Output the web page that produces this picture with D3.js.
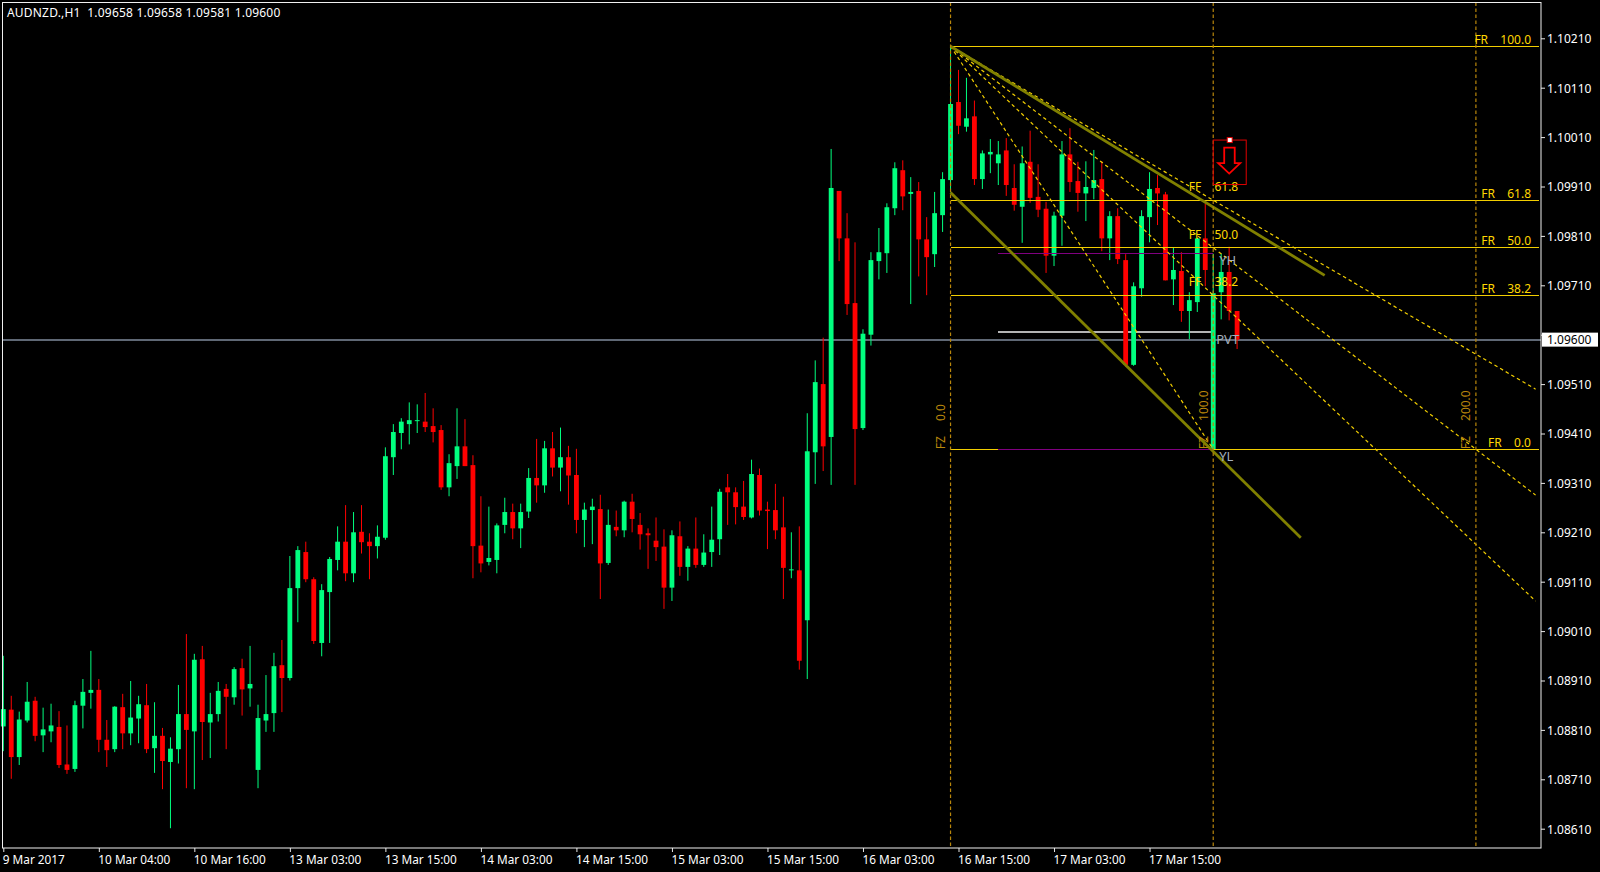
<!DOCTYPE html>
<html><head><meta charset="utf-8">
<script src="https://cdn.jsdelivr.net/npm/d3@7/dist/d3.min.js"></script>
<style>
html,body{margin:0;padding:0;background:#000;overflow:hidden}
svg{display:block}
text{font-family:"Noto Sans",sans-serif;font-size:12px;white-space:pre}
</style></head><body>
<svg id="c" width="1600" height="872"></svg>
<script>
// AUDNZD H1, all prices in points (1 point = 0.00001)
const opens=[
108817,108851,108755,108829,108869,108799,108807,108816,108740,108731,
108859,108885,108891,108790,108771,108856,108803,108833,108860,108773,
108798,108745,108771,108842,108807,108953,108825,108842,108893,108876,
108935,108894,108729,108829,108844,108941,108915,109097,109170,109115,
108986,109089,109154,109191,109127,109211,109191,109182,109199,109362,
109411,109429,109436,109434,109425,109417,109301,109344,109384,109346,
109183,109150,109154,109225,109251,109218,109252,109320,109305,109380,
109341,109362,109326,109235,109255,109257,109148,109221,109214,109272,
109225,109208,109193,109181,109098,109202,109140,109177,109144,109170,
109196,109301,109291,109262,109240,109326,109256,109255,109220,109133,
109133,109032,109372,109510,109403,109901,109805,109674,109421,109610,
109759,109775,109866,109943,109895,109901,109803,109773,109852,109923,
110081,110031,110052,109925,109975,109957,109983,109907,109869,109960,
109889,109865,109770,109851,109975,109921,109896,109907,109925,109805,
109850,109761,109549,109704,109848,109907,109894,109722,109739,109658,
109676,109805,109378,109696,109737,109658];
const closes=[
108852,108755,108831,108867,108798,108811,108819,108739,108729,108860,
108887,108891,108790,108769,108857,108803,108835,108862,108771,108798,
108747,108772,108842,108810,108952,108826,108842,108889,108877,108933,
108892,108903,108834,108842,108939,108915,109097,109174,109115,108990,
109093,109156,109191,109127,109210,109190,109182,109201,109364,109413,
109434,109437,109437,109423,109413,109301,109350,109384,109344,109182,
109147,109158,109224,109251,109218,109251,109320,109305,109380,109341,
109362,109325,109235,109256,109262,109147,109225,109214,109272,109237,
109206,109204,109180,109098,109204,109140,109177,109144,109169,109195,
109292,109291,109261,109241,109328,109254,109253,109214,109138,109135,
108950,109374,109514,109384,109907,109805,109672,109419,109612,109761,
109777,109868,109947,109890,109899,109803,109767,109856,109925,110077,
110033,110048,109925,109977,109980,109975,109913,109873,109957,109887,
109863,109770,109851,109975,109919,109897,109909,109923,109805,109850,
109763,109549,109708,109850,109905,109896,109720,109741,109658,109680,
109805,109741,109694,109737,109658,109600];
const highs=[
108960,108879,108847,108907,108877,108855,108863,108848,108819,108869,
108913,108970,108913,108830,108858,108883,108909,108879,108903,108866,
108814,108795,108901,109004,108964,108980,108885,108907,108903,108937,
108954,108980,108861,108921,108966,108992,109162,109182,109191,109119,
109105,109160,109222,109265,109251,109265,109208,109224,109382,109429,
109441,109473,109469,109492,109461,109427,109368,109461,109439,109366,
109283,109262,109228,109280,109268,109268,109340,109399,109395,109413,
109422,109385,109379,109270,109278,109286,109256,109254,109274,109288,
109249,109218,109240,109216,109214,109232,109182,109240,109206,109262,
109298,109328,109301,109314,109357,109339,109272,109308,109282,109210,
109222,109451,109558,109604,109986,109901,109856,109797,109621,109777,
109826,109876,109959,109963,109929,109919,109848,109899,109939,110193,
110146,110130,110084,109983,110006,110002,110008,109955,109991,110023,
109955,109879,109859,110002,110028,109960,109961,109984,109961,109860,
109866,109773,109716,109862,109939,109933,109899,109787,109777,109696,
109806,109875,109774,109774,109788,109658];
const lows=[
108767,108711,108739,108825,108787,108765,108785,108733,108721,108725,
108813,108853,108765,108735,108765,108771,108779,108783,108763,108723,
108690,108611,108742,108692,108690,108749,108753,108827,108771,108861,
108839,108857,108692,108806,108806,108846,108910,109028,109109,108984,
108959,108986,109133,109111,109109,109167,109115,109157,109195,109326,
109378,109388,109411,109413,109392,109296,109283,109318,109344,109117,
109129,109143,109127,109208,109196,109178,109239,109270,109290,109323,
109293,109266,109208,109180,109186,109075,109144,109202,109200,109210,
109175,109136,109152,109055,109071,109122,109112,109138,109140,109140,
109164,109225,109226,109235,109238,109244,109176,109196,109075,109117,
108932,108913,109308,109334,109306,109759,109650,109306,109417,109588,
109722,109735,109852,109862,109672,109728,109690,109747,109818,109898,
110016,110021,109913,109905,109937,109913,109891,109861,109796,109877,
109848,109735,109749,109790,109899,109859,109840,109884,109779,109761,
109753,109545,109547,109687,109797,109832,109720,109670,109636,109601,
109656,109708,109378,109641,109639,109581];

const title="AUDNZD.,H1  1.09658 1.09658 1.09581 1.09600";
const priceTicks=[110210,110110,110010,109910,109810,109710,109610,109510,109410,109310,109210,109110,109010,108910,108810,108710,108610];
const timeTickBars=[0,12,24,36,48,60,72,84,96,108,120,132,144];
const timeLabels=["9 Mar 2017","10 Mar 04:00","10 Mar 16:00","13 Mar 03:00","13 Mar 15:00","14 Mar 03:00","14 Mar 15:00","15 Mar 03:00","15 Mar 15:00","16 Mar 03:00","16 Mar 15:00","17 Mar 03:00","17 Mar 15:00"];
const lastPrice=109600;
const hiddenTick=109610; // its label sits behind the last-price tag

// drawing objects, anchored by bar index and price
const fibHigh=110194, fibLow=109378, fibStartBar=119, fibEndBar=152, fibRightBar=192.5;
const retraceLevels=[100,61.8,50,38.2,0];
const fanLevels=[61.8,50,38.2];
const timeZones=[{bar:119,label:"0.0"},{bar:152,label:"100.0"},{bar:185,label:"200.0"}];
const channelUpper=[{bar:119,p:110194},{bar:166,p:109730}];
const channelLower=[{bar:119,p:109898},{bar:163,p:109199}];
const levelStartBar=125;
const yesterdayHigh=109775, yesterdayLow=109378, pivot=109616;
const signalBoxTop=110004, signalBoxBottom=109914;

const W=1600,H=872,L=2.5,T=2.5,R=1541,B=848;
const level=l=>fibLow+(fibHigh-fibLow)*l/100;
const x=d3.scaleLinear().domain([0,1]).range([3.3,11.26]);
const y=d3.scaleLinear().domain([110210,108610]).range([38.3,828.7]);
const svg=d3.select("#c");
svg.append("rect").attr("width",W).attr("height",H).attr("fill","#000");

const GOLD="#F2CE00",TXT="#FFD700",ZONE="#B8860B",UP="#00FF7F",DOWN="#FF0000",OLIVE="#808000";
const hline=(g,x1,x2,p,c,w)=>g.append("line").attr("x1",x1).attr("x2",x2).attr("y1",y(p)).attr("y2",y(p)).attr("stroke",c).attr("stroke-width",w).attr("shape-rendering","crispEdges");
const pf=d3.line().x(d=>x(d.bar)).y(d=>y(d.p));

// under the candles
const under=svg.append("g");
hline(under,L,R,lastPrice,"#5F6875",2);
hline(under,x(levelStartBar),x(fibEndBar),pivot,"#B4B4B4",2);

// candles
const bars=d3.range(opens.length);
const cg=svg.append("g");
const col=i=>closes[i]>=opens[i]?UP:DOWN;
cg.selectAll("line").data(bars).join("line")
  .attr("x1",i=>x(i)).attr("x2",i=>x(i)).attr("y1",i=>y(highs[i])).attr("y2",i=>y(lows[i]))
  .attr("stroke",col).attr("stroke-width",1);
cg.selectAll("rect").data(bars).join("rect")
  .attr("x",i=>x(i)-2.4).attr("width",4.8)
  .attr("y",i=>y(Math.max(opens[i],closes[i])))
  .attr("height",i=>Math.max(1,Math.abs(y(opens[i])-y(closes[i]))))
  .attr("fill",col);

const ob=svg.append("g");
// retracement lines
retraceLevels.forEach(l=>hline(ob,x(fibStartBar),R-2,level(l),GOLD,1));
// yesterday high / low
hline(ob,x(levelStartBar),x(fibEndBar),yesterdayHigh,"#800080",1);
hline(ob,x(levelStartBar),x(fibEndBar),yesterdayLow,"#800080",1);

// fan
svg.append("clipPath").attr("id","plot").append("rect").attr("x",L).attr("y",T).attr("width",R-2-L).attr("height",B-T);
const fan=ob.append("g").attr("clip-path","url(#plot)");
fanLevels.forEach(l=>{
  const slope=(level(l)-fibHigh)/(fibEndBar-fibStartBar);
  fan.append("path").attr("d",pf([{bar:fibStartBar,p:fibHigh},{bar:fibRightBar,p:fibHigh+slope*(fibRightBar-fibStartBar)}]))
    .attr("fill","none").attr("stroke",GOLD).attr("stroke-width",1.2).attr("stroke-dasharray","3.5 3");
});
fan.append("path").attr("d",pf([{bar:fibStartBar,p:fibHigh},{bar:fibEndBar,p:fibLow}]))
  .attr("fill","none").attr("stroke",GOLD).attr("stroke-width",1.2).attr("stroke-dasharray","3.5 3");

// channel
[channelUpper,channelLower].forEach(c=>ob.append("path").attr("d",pf(c)).attr("fill","none").attr("stroke",OLIVE).attr("stroke-width",2.8));

// time zones
timeZones.forEach(z=>{
  ob.append("line").attr("x1",x(z.bar)).attr("x2",x(z.bar)).attr("y1",T).attr("y2",B)
    .attr("stroke",ZONE).attr("stroke-width",1.2).attr("stroke-dasharray","3.5 2.5");
  ob.append("text").attr("transform",`translate(${x(z.bar)-5.5},${y(fibLow)}) rotate(-90)`)
    .attr("fill",ZONE).attr("font-size",12).style("word-spacing","4.5px").text("FZ  "+z.label);
});

// retracement & fan labels
const FR_RIGHT=R-10;
retraceLevels.forEach(l=>{
  const yy=y(level(l))-2.5;
  ob.append("text").attr("x",FR_RIGHT).attr("y",yy).attr("text-anchor","end").attr("fill",TXT).style("word-spacing","3px")
    .text("FR  "+l.toFixed(1));
});
fanLevels.forEach(l=>{
  const yy=y(level(l))-9;
  ob.append("text").attr("x",x(fibEndBar)+25).attr("y",yy).attr("text-anchor","end").attr("fill",TXT).style("word-spacing","3.5px")
    .text("FF  "+l.toFixed(1));
});

// level labels
const LAB="#A4B0BE";
[[yesterdayHigh,"YH",6,12],[pivot,"PVT",3,12],[yesterdayLow,"YL",6,12]].forEach(d=>{
  ob.append("text").attr("x",x(fibEndBar)+d[2]).attr("y",y(d[0])+d[3]).attr("fill",LAB).attr("font-size",13).style("font-size","13px").text(d[1]);
});

// sell signal
const sx=x(fibEndBar), sg=ob.append("g");
const bt=y(signalBoxTop), bb=y(signalBoxBottom), mx=sx+16;
sg.append("rect").attr("x",sx).attr("y",bt).attr("width",33).attr("height",bb-bt).attr("fill","none").attr("stroke","#E00000").attr("stroke-width",1);
sg.append("path").attr("d",`M${mx-5},${bt+7.5}H${mx+5.5}V${bt+23}H${mx+11}L${mx},${bt+33.5}L${mx-11},${bt+23}H${mx-5}Z`).attr("fill","none").attr("stroke","#FF0000").attr("stroke-width",1.8);
sg.append("rect").attr("x",mx-2).attr("y",bt-2.5).attr("width",5).attr("height",5).attr("fill","#fff").attr("stroke","#E00000").attr("stroke-width",1);

// axes
const yAxis=d3.axisRight(y).tickValues(priceTicks).tickFormat(d=>d===hiddenTick?"":(d/1e5).toFixed(5)).tickSize(4).tickPadding(2);
const ya=svg.append("g").attr("transform",`translate(${R},0)`).call(yAxis);
const xAxis=d3.axisBottom(x).tickValues(timeTickBars).tickFormat((d,i)=>timeLabels[i]).tickSize(4).tickPadding(3);
const xa=svg.append("g").attr("transform",`translate(0,${B})`).call(xAxis);
[ya,xa].forEach(a=>{a.select(".domain").remove();a.selectAll("line").attr("stroke","#E8E8E8");a.selectAll("text").attr("fill","#fff").attr("font-size",12).attr("font-family",null);});
ya.selectAll("text").attr("dy","0.36em");
xa.selectAll("text").attr("text-anchor","start").attr("dy","0.75em").attr("x",-1).style("font-size","11.8px");

// frame
svg.append("rect").attr("x",L).attr("y",T).attr("width",R-L).attr("height",B-T).attr("fill","none").attr("stroke","#F0F0F0").attr("stroke-width",1);

// last price tag
const ly=y(lastPrice);
svg.append("rect").attr("x",R+1).attr("y",ly-7).attr("width",56).attr("height",14).attr("fill","#fff");
svg.append("text").attr("x",R+6).attr("y",ly+4.4).attr("fill","#000").text((lastPrice/1e5).toFixed(5));

// title
svg.append("text").attr("x",7).attr("y",17).attr("fill","#fff").style("letter-spacing","0.2px").text(title);
</script>
</body></html>
